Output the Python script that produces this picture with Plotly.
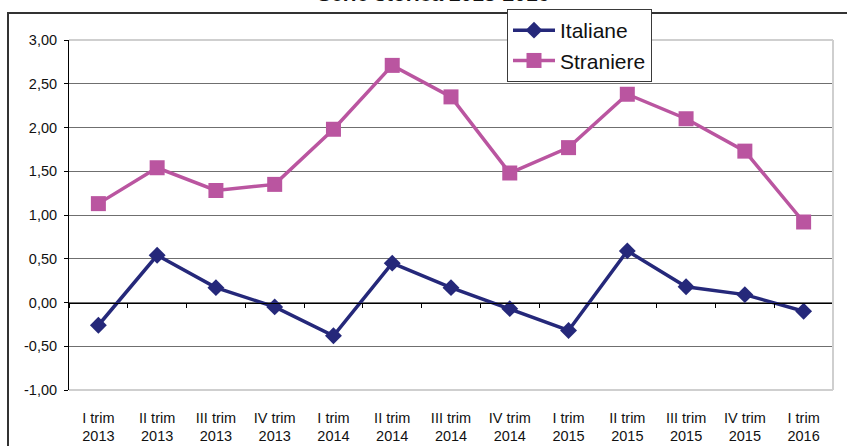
import plotly.graph_objects as go

# Quarterly series, 2013-2016
quarters = ["I trim", "II trim", "III trim", "IV trim",
            "I trim", "II trim", "III trim", "IV trim",
            "I trim", "II trim", "III trim", "IV trim",
            "I trim"]
years = ["2013", "2013", "2013", "2013",
         "2014", "2014", "2014", "2014",
         "2015", "2015", "2015", "2015",
         "2016"]
italiane = [-0.26, 0.54, 0.17, -0.05, -0.38, 0.45, 0.17, -0.07,
            -0.32, 0.59, 0.18, 0.09, -0.10]
straniere = [1.13, 1.54, 1.28, 1.35, 1.98, 2.71, 2.35, 1.48,
             1.77, 2.38, 2.10, 1.73, 0.92]

y_ticks = [3.0, 2.5, 2.0, 1.5, 1.0, 0.5, 0.0, -0.5, -1.0]
y_tick_text = ["3,00", "2,50", "2,00", "1,50", "1,00", "0,50", "0,00", "-0,50", "-1,00"]
title_text = "Serie storica 2013-2016"

NAVY = "#25287A"
MAGENTA = "#BA55A0"
FONT = "Liberation Sans, Arial, sans-serif"

W, H = 847, 446
ML, MR, MT, MB = 69, 14, 40, 56
PW, PH = W - ML - MR, H - MT - MB

x_idx = list(range(len(quarters)))
labels = [f"{q}<br>{y}" for q, y in zip(quarters, years)]

fig = go.Figure()
fig.add_trace(go.Scatter(
    x=x_idx, y=italiane, name="Italiane", mode="lines+markers",
    line=dict(color=NAVY, width=3.5),
    marker=dict(symbol="diamond", size=13, color=NAVY),
))
fig.add_trace(go.Scatter(
    x=x_idx, y=straniere, name="Straniere", mode="lines+markers",
    line=dict(color=MAGENTA, width=3.5),
    marker=dict(symbol="square", size=15, color=MAGENTA),
))
# invisible trace on a second x axis that draws the category axis at y = 0
fig.add_trace(go.Scatter(x=[], y=[], xaxis="x2", showlegend=False, hoverinfo="skip"))


def px_x(px):
    return (px - ML) / PW


def px_y(py):
    return (H - MB - py) / PH


y_min, y_max = -1.0, 3.0
zero_pos = (0 - y_min) / (y_max - y_min)
boundaries = [i - 0.5 for i in range(len(quarters) + 1)]

fig.update_layout(
    width=W, height=H,
    margin=dict(l=ML, r=MR, t=MT, b=MB, autoexpand=False),
    paper_bgcolor="white", plot_bgcolor="white",
    font=dict(family=FONT, color="#111111", size=14.5),
    showlegend=True,
    legend=dict(
        x=px_x(507), y=px_y(9), xanchor="left", yanchor="top",
        bgcolor="white", bordercolor="#3a3a3a", borderwidth=1,
        font=dict(size=21, family=FONT, color="#111111"),
        itemwidth=42, tracegroupgap=0,
    ),
    xaxis=dict(
        range=[-0.5, len(quarters) - 0.5],
        tickmode="array", tickvals=x_idx, ticktext=labels,
        ticks="", showgrid=False, zeroline=False, showline=False,
        tickfont=dict(size=14.5, family=FONT, color="#111111"),
        ticklabelstandoff=17, automargin=False,
    ),
    xaxis2=dict(
        overlaying="x", anchor="free", position=zero_pos,
        range=[-0.5, len(quarters) - 0.5],
        tickmode="array", tickvals=boundaries, ticks="outside",
        ticklen=4, tickcolor="#000000", tickwidth=1,
        showticklabels=False, showgrid=False, zeroline=False,
        showline=True, linecolor="#000000", linewidth=1,
        automargin=False,
    ),
    yaxis=dict(
        range=[y_min, y_max],
        tickmode="array", tickvals=y_ticks, ticktext=y_tick_text,
        ticks="outside", ticklen=4, tickcolor="#000000",
        showline=True, linecolor="#000000", linewidth=1,
        showgrid=True, gridcolor="#6f6f6f", gridwidth=1,
        zeroline=False,
        tickfont=dict(size=14.5, family=FONT, color="#111111"),
        ticklabelstandoff=4, automargin=False,
    ),
    shapes=[
        # light border round the plotting area (top, right, bottom edges)
        dict(type="line", xref="paper", yref="paper", x0=0, x1=1, y0=1, y1=1,
             line=dict(color="#cfcfcf", width=2), layer="above"),
        dict(type="line", xref="paper", yref="paper", x0=1, x1=1, y0=0, y1=1,
             line=dict(color="#cfcfcf", width=2), layer="above"),
        dict(type="line", xref="paper", yref="paper", x0=0, x1=1, y0=0, y1=0,
             line=dict(color="#cfcfcf", width=2), layer="above"),
        # outer chart frame
        dict(type="rect", xref="paper", yref="paper",
             x0=px_x(8), x1=px_x(W + 20), y0=px_y(H + 20), y1=px_y(13),
             line=dict(color="#333333", width=2), fillcolor="rgba(0,0,0,0)",
             layer="below"),
    ],
    annotations=[
        dict(text=f"<b>{title_text}</b>", xref="paper", yref="paper",
             x=px_x(432.5), y=px_y(-6.5), xanchor="center", yanchor="middle",
             showarrow=False, font=dict(size=21, family=FONT, color="#111111")),
    ],
)

fig.write_html("out.html")
